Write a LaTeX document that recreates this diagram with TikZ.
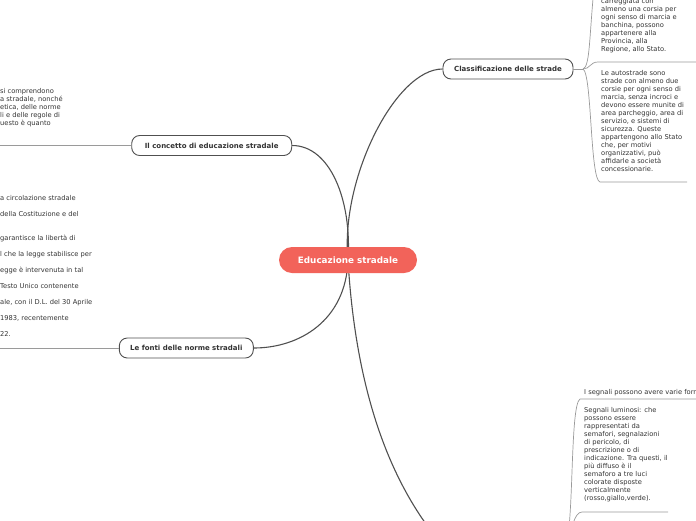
\documentclass[tikz,border=0pt]{standalone}
\usepackage{fontspec}
\setmainfont{DejaVu Sans}
\usepackage{xcolor}
\definecolor{mmred}{HTML}{F2635A}
\definecolor{mmdark}{HTML}{505050}
\definecolor{mmline}{HTML}{9A9A9A}
\definecolor{mmtext}{HTML}{333333}
\usetikzlibrary{positioning,backgrounds}
\tikzset{
  central/.style={rounded corners=13pt, fill=mmred, text=white,
                  font=\fontsize{8.8}{10}\selectfont\bfseries,
                  minimum width=138pt, minimum height=26pt, inner sep=0pt},
  topic/.style={draw=mmdark, line width=0.9pt, rounded corners=8pt, fill=white,
                text=mmtext, font=\fontsize{7}{8}\selectfont\bfseries,
                minimum width=#1, minimum height=20pt, inner sep=0pt},
  note/.style={text=mmtext, font=\fontsize{6.7}{8}\selectfont, align=left, inner sep=0pt},
  mainlink/.style={draw=mmdark, line width=1.1pt},
  sublink/.style={draw=mmline, line width=0.7pt},
}

\begin{document}
\begin{tikzpicture}[x=1pt, y=-1pt]
\useasboundingbox (0,0) rectangle (696,520);
\clip (0,0) rectangle (696,520);
% Central topic
\node[central] (edu) at (348,260) {Educazione stradale};
% Main topics
\node[topic=160pt] (concetto) at (211.7,145.5) {Il concetto di educazione stradale};
\node[topic=134pt] (fonti) at (186.3,348) {Le fonti delle norme stradali};
\node[topic=130pt] (classi) at (508,69) {Classificazione delle strade};
\coordinate (segn) at (445,548);
% Links from the centre
\begin{scope}[on background layer]
\draw[mainlink] (edu.center) .. controls (352,200) and (330,145.5) .. (concetto.east);
\draw[mainlink] (edu.center) .. controls (340,180) and (395,69) .. (classi.west);
\draw[mainlink] (edu.center) .. controls (346,320) and (300,348) .. (fonti.east);
\draw[mainlink] (edu.center) .. controls (355,380) and (385,480) .. (segn);
\end{scope}
% Notes on the left (cut by the edge)
\node[note, anchor=north west] (concettotxt) at (0,88) {si comprendono\\a stradale, nonché\\etica, delle norme\\li e delle regole di\\uesto è quanto};
\coordinate (concettoend) at (0,145.5);
\draw[sublink] (concetto.west) -- (concettoend);
\node[note, anchor=north west, font=\fontsize{6.7}{16}\selectfont] (fontitxt) at (0,195) {a circolazione stradale\\della Costituzione e del\\[8pt]garantisce la libertà di\\l che la legge stabilisce per\\egge è intervenuta in tal\\Testo Unico contenente\\ale, con il D.L. del 30 Aprile\\1983, recentemente\\22.};
\coordinate (fontiend) at (0,348);
\draw[sublink] (fonti.west) -- (fontiend);
% Classificazione delle strade
\coordinate (cstub) at (583,69);
\coordinate (cup) at (594,-12);
\coordinate (c1) at (598,62);
\coordinate (c1end) at (696,62);
\coordinate (c2) at (600,182);
\coordinate (c2end) at (687,182);
\draw[sublink] (classi.east) -- (cstub);
\draw[sublink] (cstub) .. controls (590,66) and (589,40) .. (cup);
\draw[sublink] (cstub) .. controls (590,69) and (590,62) .. (c1) -- (c1end);
\draw[sublink] (cstub) .. controls (592,74) and (590,180) .. (c2) -- (c2end);
\node[note, anchor=north west] (strade1) at (601,-2) {carreggiata con\\almeno una corsia per\\ogni senso di marcia e\\banchina, possono\\appartenere alla\\Provincia, alla\\Regione, allo Stato.};
\node[note, anchor=north west] (strade2) at (601,70) {Le autostrade sono\\strade con almeno due\\corsie per ogni senso di\\marcia, senza incroci e\\devono essere munite di\\area parcheggio, area di\\servizio, e sistemi di\\sicurezza. Queste\\appartengono allo Stato\\che, per motivi\\organizzativi, può\\affidarle a società\\concessionarie.};
% Segnali (parent below the edge)
\coordinate (sgr) at (566,545);
\coordinate (s1) at (580,399);
\coordinate (s1end) at (696,399);
\coordinate (s2) at (582,512);
\coordinate (s2end) at (668,512);
\draw[sublink] (sgr) .. controls (574,520) and (570,405) .. (s1) -- (s1end);
\draw[sublink] (sgr) .. controls (572,530) and (574,512) .. (s2) -- (s2end);
\node[note, anchor=north west] (segnali1) at (584,389) {I segnali possono avere varie forme};
\node[note, anchor=north west] (segnali2) at (584,407) {Segnali luminosi: che\\possono essere\\rappresentati da\\semafori, segnalazioni\\di pericolo, di\\prescrizione o di\\indicazione. Tra questi, il\\più diffuso è il\\semaforo a tre luci\\colorate disposte\\verticalmente\\(rosso,giallo,verde).};
\end{tikzpicture}
\end{document}
